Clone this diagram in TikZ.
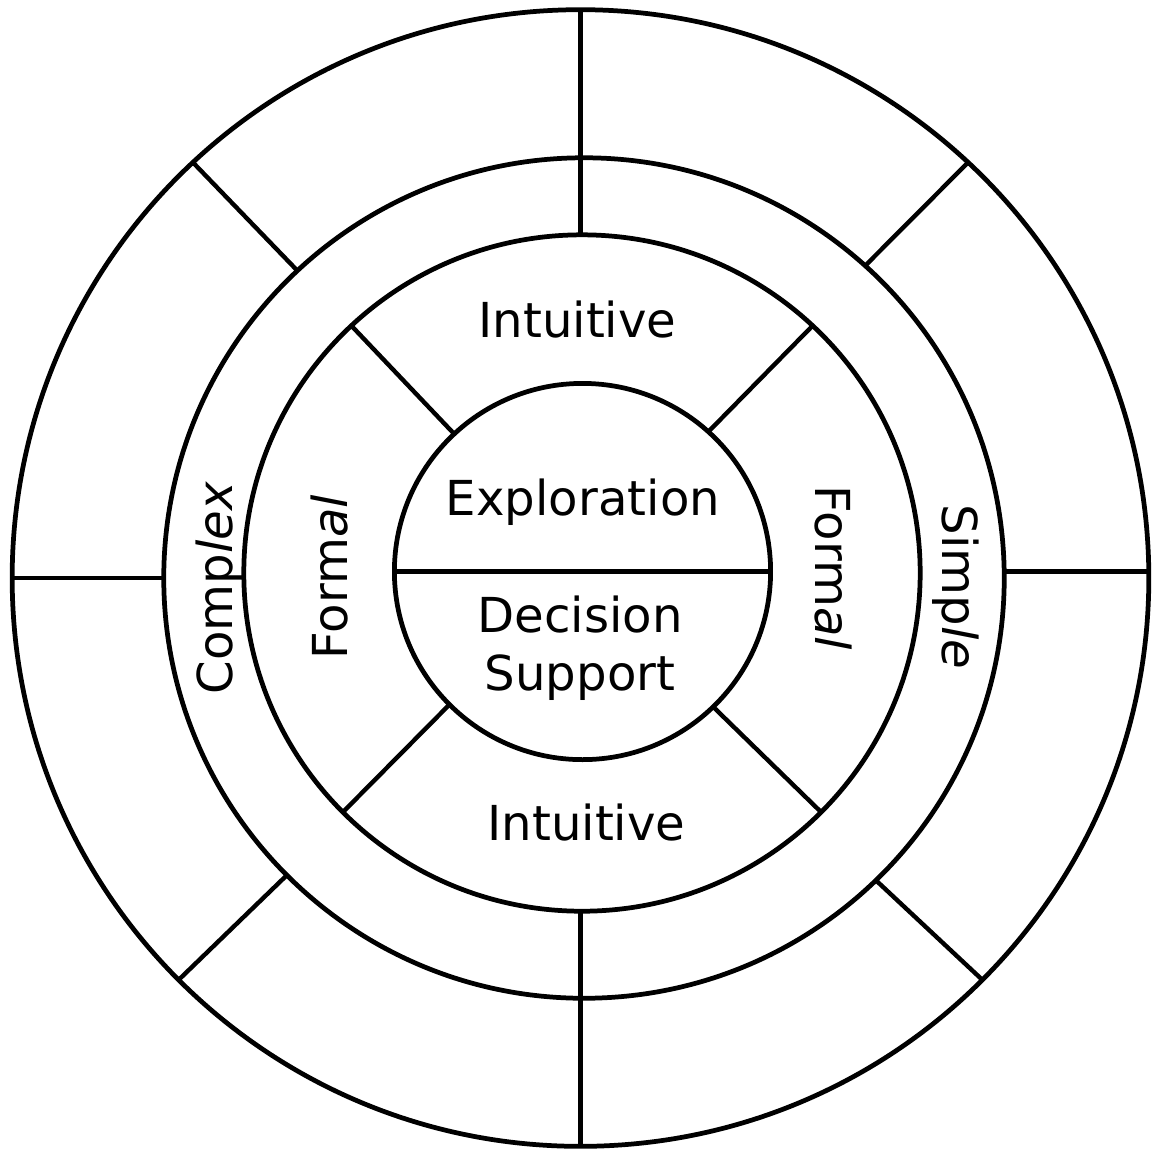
\documentclass[tikz,border=0pt]{standalone}
\usepackage{fontspec}
\setmainfont{DejaVu Sans}
\begin{document}
\begin{tikzpicture}[x=0.01cm,y=-0.01cm,
  ring/.style={circle,draw=black,line width=1.35pt,inner sep=0pt,outer sep=0pt},
  spoke/.style={draw=black,line width=1.25pt},
  lbl/.style={inner sep=0pt,outer sep=0pt,anchor=base,font=\fontsize{13.7}{16.5}\selectfont}]
\useasboundingbox (0,0) rectangle (1154,1150);
\node[ring,minimum size=11.36cm] (outer) at (580.5,578) {};
\node[ring,minimum size=8.40cm] (second) at (584,578) {};
\node[ring,minimum size=6.76cm] (third) at (582,573) {};
\node[ring,minimum size=3.76cm] (inner) at (582.5,571.5) {};
% spokes outer ring
\draw[spoke] (outer.90) -- (outer.90 |- third.90);
\draw[spoke] (outer.270 |- third.270) -- (outer.270);
\draw[spoke] (outer.180) -- (second.180);
\draw[spoke] (second.0 |- inner.0) -- (outer.0 |- inner.0);
\draw[spoke] (outer.133) -- (second.133);
\draw[spoke] (outer.47) -- (second.48);
\draw[spoke] (outer.225) -- (second.225);
\draw[spoke] (outer.315) -- (second.314);
% spokes inner ring
\draw[spoke] (third.133) -- (inner.133);
\draw[spoke] (third.47) -- (inner.48);
\draw[spoke] (third.225) -- (inner.225);
\draw[spoke] (third.315) -- (inner.314);
\draw[spoke] (inner.180) -- (inner.0);
% labels
\node[lbl] (intu1) at (577.5,337) {Intuitive};
\node[lbl] (intu2) at (586.5,840) {Intuitive};
\node[lbl] (expl) at (583,515) {Exploration};
\node[lbl,anchor=center,align=center] (dec) at (580,648) {Decision\\Support};
\node[lbl,rotate=90] (cplx) at (232,588) {Comp\textit{lex}};
\node[lbl,rotate=90] (form1) at (347,577) {Form\textit{al}};
\node[lbl,rotate=-90] (form2) at (815,568) {Form\textit{al}};
\node[lbl,rotate=-90] (simp) at (942,587) {Simp\textit{le}};
\end{tikzpicture}
\end{document}
